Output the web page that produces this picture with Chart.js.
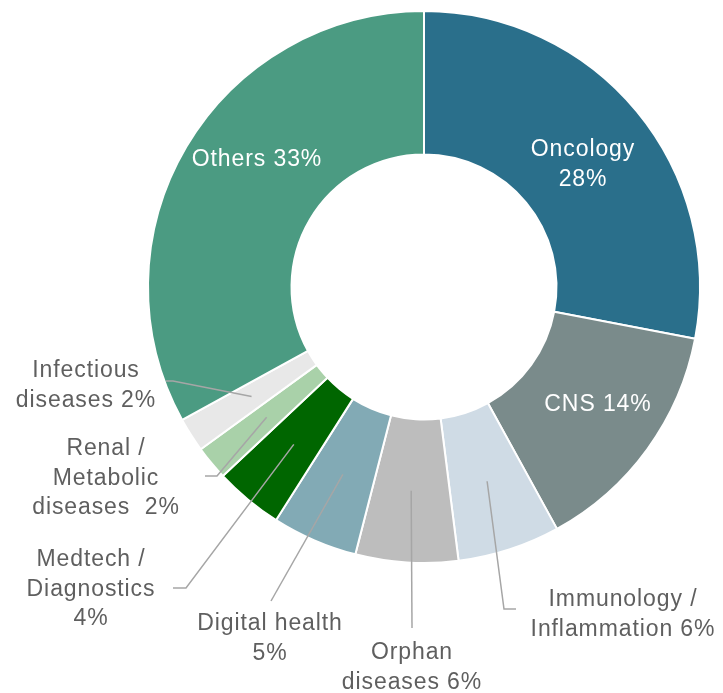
<!DOCTYPE html>
<html>
<head>
<meta charset="utf-8">
<script src="https://cdn.jsdelivr.net/npm/chart.js@4"></script>
<style>
  html, body { margin: 0; padding: 0; background: #fff; }
  #wrap { width: 723px; height: 693px; }
</style>
</head>
<body>
<div id="wrap"><canvas id="myChart" width="723" height="693"></canvas></div>
<script>
// data, clockwise from 12 o'clock
var categories = ["Oncology", "CNS", "Immunology / Inflammation", "Orphan diseases",
    "Digital health", "Medtech / Diagnostics", "Renal / Metabolic diseases",
    "Infectious diseases", "Others"];
var shares = [28, 14, 6, 6, 5, 4, 2, 2, 33];
var sliceColors = ["#2a6f8b", "#7a8b8b", "#cfdbe5", "#bdbdbd", "#82aab5",
    "#006600", "#a9d1a9", "#e8e8e8", "#4b9b82"];

// label text lines for every slice
var labelLines = [
    ["Oncology", "28%"],
    ["CNS 14%"],
    ["Immunology /", "Inflammation 6%"],
    ["Orphan", "diseases 6%"],
    ["Digital health", "5%"],
    ["Medtech /", "Diagnostics", "4%"],
    ["Renal /", "Metabolic", "diseases  2%"],
    ["Infectious", "diseases 2%"],
    ["Others 33%"]
];

// where the text sits (x centre, y of first line), leader elbow points
var labelPlacement = [
    { x: 583, y: 150, inside: true },
    { x: 598, y: 405, inside: true },
    { x: 623, y: 600, leader: [[504, 609], [516, 609]] },
    { x: 412, y: 653, leader: [[412, 628]] },
    { x: 270, y: 624, leader: [[271, 601]] },
    { x: 91, y: 560, leader: [[186, 588], [173, 588]] },
    { x: 106, y: 449, leader: [[217, 476], [205, 476]] },
    { x: 86, y: 371, leader: [[173, 381], [166, 381]] },
    { x: 257, y: 160, inside: true }
];

var lineGap = 29.5;

var sliceLabels = {
    id: "sliceLabels",
    afterDatasetsDraw: function (chart) {
        var ctx = chart.ctx;
        var arcs = chart.getDatasetMeta(0).data;
        ctx.save();
        ctx.font = "23px 'Liberation Sans', Arial, sans-serif";
        ctx.letterSpacing = "0.9px";
        ctx.textAlign = "center";
        ctx.textBaseline = "middle";
        arcs.forEach(function (arc, i) {
            var p = labelPlacement[i];
            if (p.leader) {
                var start = arc.tooltipPosition();
                ctx.beginPath();
                ctx.strokeStyle = "#a6a6a6";
                ctx.lineWidth = 1.5;
                ctx.moveTo(start.x, start.y);
                p.leader.forEach(function (pt) { ctx.lineTo(pt[0], pt[1]); });
                ctx.stroke();
            }
            ctx.fillStyle = p.inside ? "#ffffff" : "#5f5f5f";
            labelLines[i].forEach(function (line, k) {
                ctx.fillText(line, p.x, p.y + k * lineGap);
            });
        });
        ctx.restore();
    }
};

var ctx = document.getElementById("myChart").getContext("2d");
var chart = new Chart(ctx, {
    type: "doughnut",
    data: {
        labels: categories,
        datasets: [
            {
                data: shares,
                backgroundColor: sliceColors,
                borderColor: "#ffffff",
                borderWidth: 2,
            },
        ],
    },
    options: {
        responsive: false,
        animation: false,
        cutout: "48%",
        layout: {
            padding: { left: 147, right: 22, top: 10, bottom: 129 },
        },
        plugins: {
            legend: { display: false },
            tooltip: { enabled: false },
        },
    },
    plugins: [sliceLabels],
});
</script>
</body>
</html>
